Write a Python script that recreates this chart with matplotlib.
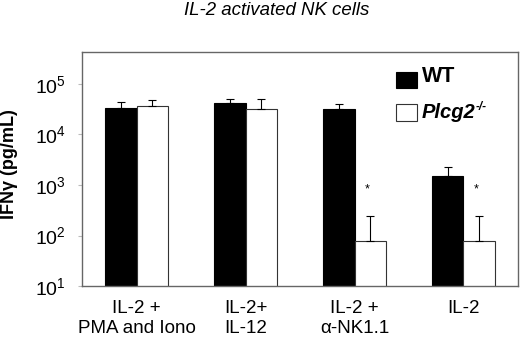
import numpy as np
import matplotlib.pyplot as plt
from matplotlib.patches import Rectangle
from matplotlib.ticker import LogLocator, NullLocator

plt.rcParams['font.family'] = ['Liberation Sans', 'DejaVu Sans']
plt.rcParams['mathtext.default'] = 'regular'

groups = ['IL-2 +\nPMA and Iono', 'IL-2+\nIL-12', 'IL-2 +\n\u03b1-NK1.1', 'IL-2']
wt = [3.3e4, 4.2e4, 3.2e4, 1.5e3]
wt_upper = [4.4e4, 5.0e4, 4.0e4, 2.3e3]
ko = [3.6e4, 3.2e4, 78, 78]
ko_upper = [4.8e4, 5.0e4, 243, 243]
signif = [False, False, True, True]

x = np.arange(len(groups))
w = 0.29

fig = plt.figure(figsize=(5.2, 3.41), dpi=100)
ax = fig.add_axes([0.158, 0.161, 0.838, 0.687])

err_kw = dict(ecolor='black', elinewidth=0.8, capsize=3, capthick=0.8)
ax.bar(x - w / 2, wt, w, color='black', edgecolor='black', linewidth=0.8,
       yerr=[np.zeros(4), np.array(wt_upper) - np.array(wt)], error_kw=err_kw)
ax.bar(x + w / 2, ko, w, color='white', edgecolor='#333333', linewidth=0.8,
       yerr=[np.zeros(4), np.array(ko_upper) - np.array(ko)], error_kw=err_kw)

for i, s in enumerate(signif):
    if s:
        ax.text(x[i] + w / 2 - 0.03, ko_upper[i] * 3.3, '*', ha='center', va='center',
                fontsize=9)

ax.set_yscale('log')
ax.set_ylim(10, 4.3e5)
ax.set_xlim(-0.5, 3.5)
ax.yaxis.set_major_locator(LogLocator(base=10, numticks=10))
ax.yaxis.set_minor_locator(NullLocator())
ax.set_xticks(x)
ax.set_xticklabels(groups, fontsize=13.5, linespacing=1.2)
ax.tick_params(axis='x', length=0, pad=10)
ax.tick_params(axis='y', length=3, color='#bbbbbb', labelsize=14, pad=9)
for sp in ax.spines.values():
    sp.set_color('#666666')
    sp.set_linewidth(1)

ax.set_ylabel('IFN\u03b3 (pg/mL)', fontsize=13, fontweight='bold')
ax.yaxis.set_label_coords(-0.147, 0.52)

fig.text(0.533, 0.968, 'IL-2 activated NK cells', ha='center', va='center',
         fontsize=13.4, style='italic')

# legend drawn by hand
ax.add_patch(Rectangle((0.720, 0.846), 0.048, 0.069, transform=ax.transAxes,
                       facecolor='black', edgecolor='black', lw=0.8))
ax.add_patch(Rectangle((0.720, 0.705), 0.048, 0.073, transform=ax.transAxes,
                       facecolor='white', edgecolor='#333333', lw=0.8))
ax.text(0.780, 0.893, 'WT', transform=ax.transAxes, ha='left', va='center',
        fontsize=15.5, fontweight='bold')
t = ax.text(0.780, 0.742, 'Plcg2', transform=ax.transAxes, ha='left', va='center',
            fontsize=14.5, fontweight='bold', style='italic')
ax.annotate('-/-', xy=(1, 0.78), xycoords=t, ha='left', va='center',
            fontsize=8.5, fontweight='bold', style='italic')

fig.savefig('out.png', dpi=100)
